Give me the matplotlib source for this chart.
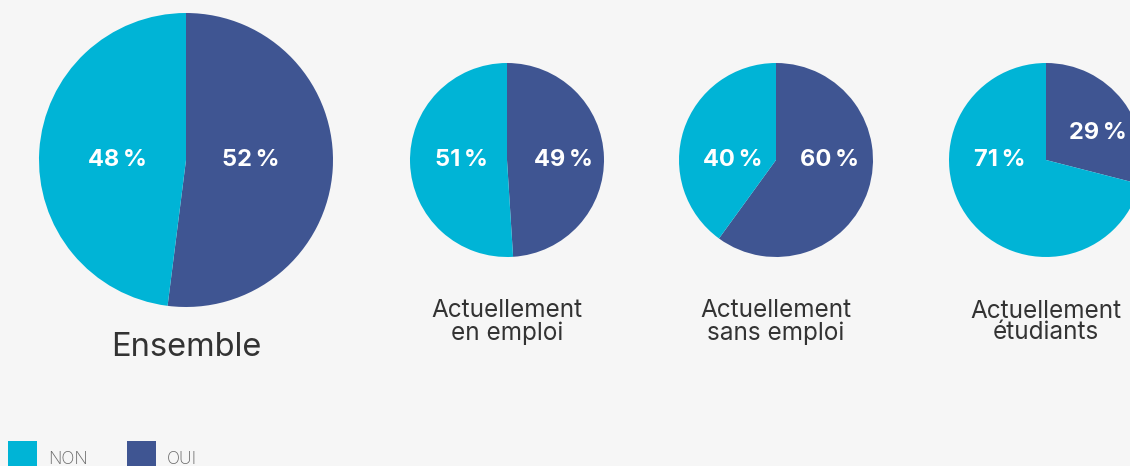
import matplotlib
matplotlib.use("Agg")
import matplotlib.pyplot as plt
from matplotlib.patches import Rectangle

# Data
categories = ["Ensemble", "Actuellement\nen emploi", "Actuellement\nsans emploi", "Actuellement\nétudiants"]
oui = [52, 49, 60, 29]
non = [48, 51, 40, 71]
legend_labels = ["NON", "OUI"]

# Style / layout
C_NON = "#00B4D6"
C_OUI = "#3F5592"
BG = "#F6F6F6"
W, H = 1130, 466
centers_x = [186, 507, 776, 1046]
center_y = 160
radii = [147, 97, 97, 97]
non_off = [(-69, 0), (-46, 0), (-43, 0), (-46, 0)]
oui_off = [(65, 0), (56, 0), (54, 0), (52, 27)]
cat_y = [348, 322, 322, 322]
cat_size = [23.5, 17.5, 17.5, 17.5]

fig = plt.figure(figsize=(W / 100, H / 100), dpi=100, facecolor=BG)
ax = fig.add_axes([0, 0, 1, 1])
ax.set_facecolor(BG)

FONT = ["Inter", "DejaVu Sans"]

for i in range(len(categories)):
    cx, cy = centers_x[i], H - center_y
    ax.pie([oui[i], non[i]], colors=[C_OUI, C_NON], startangle=90, counterclock=False,
           center=(cx, cy), radius=radii[i], frame=True,
           wedgeprops=dict(linewidth=0))
    ax.text(cx + non_off[i][0], cy + non_off[i][1], f"{non[i]}\u2009%", ha="center", va="center",
            color="white", fontsize=17, fontweight="bold", family=FONT)
    ax.text(cx + oui_off[i][0], cy + oui_off[i][1], f"{oui[i]}\u2009%", ha="center", va="center",
            color="white", fontsize=17, fontweight="bold", family=FONT)
    ax.text(cx, H - cat_y[i], categories[i], ha="center", va="center", color="#333333",
            fontsize=cat_size[i], family=FONT, fontweight="normal", linespacing=0.92)

ax.set_xlim(0, W)
ax.set_ylim(0, H)
ax.set_aspect("equal")
ax.axis("off")

# Legend
leg_x = [8, 127]
for j, (lab, col) in enumerate(zip(legend_labels, [C_NON, C_OUI])):
    ax.add_patch(Rectangle((leg_x[j], 0), 29, 25, facecolor=col, edgecolor="none"))
    ax.text(leg_x[j] + 40, 7, lab, ha="left", va="center", color="#666666", fontsize=12.5,
            family=FONT, fontweight="light")

fig.savefig("out.png", dpi=100, facecolor=BG)
